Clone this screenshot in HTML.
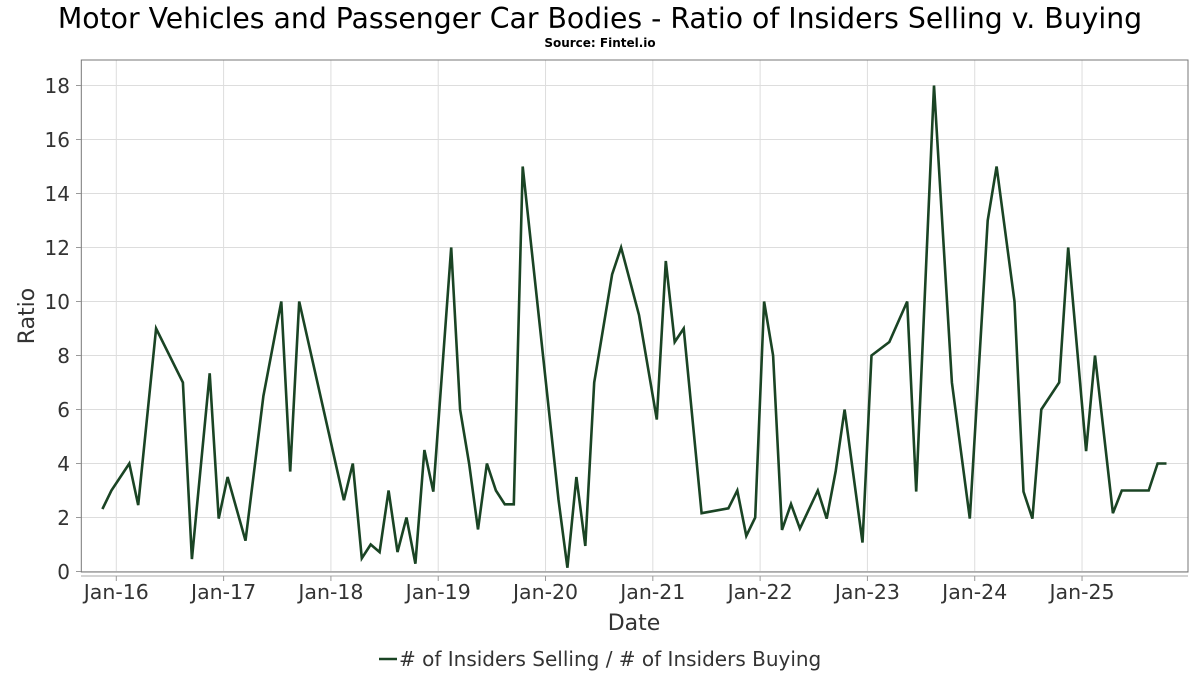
<!DOCTYPE html>
<html><head><meta charset="utf-8"><style>
body{margin:0;background:#fff;}
svg{display:block;font-family:"DejaVu Sans","Liberation Sans",sans-serif;}
</style></head><body>
<svg id="chart" width="1200" height="675">
<text x="600" y="28" text-anchor="middle" font-size="28.3" fill="#000">Motor Vehicles and Passenger Car Bodies - Ratio of Insiders Selling v. Buying</text>
<text x="600" y="47" text-anchor="middle" font-size="12" font-weight="bold" fill="#000">Source: Fintel.io</text>
<g id="grid"></g>
<rect x="81.3" y="60" width="1106.7" height="512" fill="none" stroke="#777" stroke-width="1"/>
<line x1="81" y1="576" x2="1188" y2="576" stroke="#aaa"/>
<g id="yticks"></g>
<g id="xticks"></g>
<path id="series" fill="none" stroke="#1a4424" stroke-width="2.6" stroke-linejoin="miter"/>
<text x="634" y="630" text-anchor="middle" font-size="22" fill="#333">Date</text>
<text transform="translate(34,316) rotate(-90)" text-anchor="middle" font-size="22" fill="#333">Ratio</text>
<g>
<line x1="379" y1="659" x2="397" y2="659" stroke="#1a4424" stroke-width="2.6"/>
<text x="399" y="666" font-size="20" fill="#333"># of Insiders Selling / # of Insiders Buying</text>
</g>
</svg>
<script>
const dates = ["2015-11","2015-12","2016-02","2016-03","2016-05","2016-08","2016-09","2016-11","2016-12","2017-01","2017-03","2017-05","2017-07","2017-08","2017-09","2018-02","2018-03","2018-04","2018-05","2018-06","2018-07","2018-08","2018-09","2018-10","2018-11","2018-12","2019-02","2019-03","2019-04","2019-05","2019-06","2019-07","2019-08","2019-09","2019-10","2020-02","2020-03","2020-04","2020-05","2020-06","2020-08","2020-09","2020-11","2021-01","2021-02","2021-03","2021-04","2021-06","2021-09","2021-10","2021-11","2021-12","2022-01","2022-02","2022-03","2022-04","2022-05","2022-07","2022-08","2022-09","2022-10","2022-12","2023-01","2023-03","2023-05","2023-06","2023-08","2023-10","2023-12","2024-02","2024-03","2024-05","2024-06","2024-07","2024-08","2024-10","2024-11","2025-01","2025-02","2025-04","2025-05","2025-08","2025-09","2025-10"];
const ratios = [2.31,3.0,4.0,2.46,9,7,0.46,7.34,1.96,3.5,1.14,6.5,10,3.7,10,2.64,4,0.49,1.0,0.72,3,0.72,2,0.29,4.5,2.96,12,6,4,1.56,4,3,2.49,2.49,15,2.66,0.14,3.5,0.95,7,11,12,9.5,5.63,11.5,8.5,9,2.16,2.34,3,1.32,2,10,8,1.54,2.5,1.59,3,1.96,3.72,6,1.07,8,8.5,10,2.96,18,7,1.96,13,15,10,2.96,1.96,6,7,12,4.46,8,2.16,3,3,4,4];
const yTicks = [0,2,4,6,8,10,12,14,16,18];
const xTickLabels = ["Jan-16","Jan-17","Jan-18","Jan-19","Jan-20","Jan-21","Jan-22","Jan-23","Jan-24","Jan-25"];

const NS="http://www.w3.org/2000/svg";
function monthIndex(d){const [y,m]=d.split("-").map(Number);return (y-2016)*12+(m-1);}
function xScale(mi){return 116.3+8.942*mi;}
function yScale(v){return 571.5-27.0*v;}
const grid=document.getElementById("grid"),yt=document.getElementById("yticks"),xt=document.getElementById("xticks");
yTicks.forEach(v=>{
  const y=yScale(v);
  const l=document.createElementNS(NS,"line");
  l.setAttribute("x1",81);l.setAttribute("x2",1188);l.setAttribute("y1",y);l.setAttribute("y2",y);
  l.setAttribute("stroke","#ddd");
  
  
  grid.appendChild(l);
  const tk=document.createElementNS(NS,"line");
  tk.setAttribute("x1",76);tk.setAttribute("x2",81);tk.setAttribute("y1",y);tk.setAttribute("y2",y);tk.setAttribute("stroke","#999");
  
  
  yt.appendChild(tk);
  const t=document.createElementNS(NS,"text");
  t.setAttribute("x",70);t.setAttribute("y",y+7.5);t.setAttribute("text-anchor","end");t.setAttribute("font-size","20");t.setAttribute("fill","#333");
  t.textContent=v;
  
  
  yt.appendChild(t);
});
xTickLabels.forEach((lab,i)=>{
  const x=xScale(i*12);
  const l=document.createElementNS(NS,"line");
  l.setAttribute("x1",x);l.setAttribute("x2",x);l.setAttribute("y1",60);l.setAttribute("y2",572);l.setAttribute("stroke","#ddd");
  
  
  grid.appendChild(l);
  const tk=document.createElementNS(NS,"line");
  tk.setAttribute("x1",x);tk.setAttribute("x2",x);tk.setAttribute("y1",576);tk.setAttribute("y2",581);tk.setAttribute("stroke","#999");
  
  
  xt.appendChild(tk);
  const t=document.createElementNS(NS,"text");
  t.setAttribute("x",x);t.setAttribute("y",599);t.setAttribute("text-anchor","middle");t.setAttribute("font-size","20.5");t.setAttribute("fill","#333");
  t.textContent=lab;
  
  
  xt.appendChild(t);
});
let d="";
dates.forEach((dt,i)=>{const x=xScale(monthIndex(dt)+0.45),y=yScale(ratios[i]);d+=(i?"L":"M")+x.toFixed(1)+","+y.toFixed(1);});
document.getElementById("series").setAttribute("d",d);
</script>
</body></html>
